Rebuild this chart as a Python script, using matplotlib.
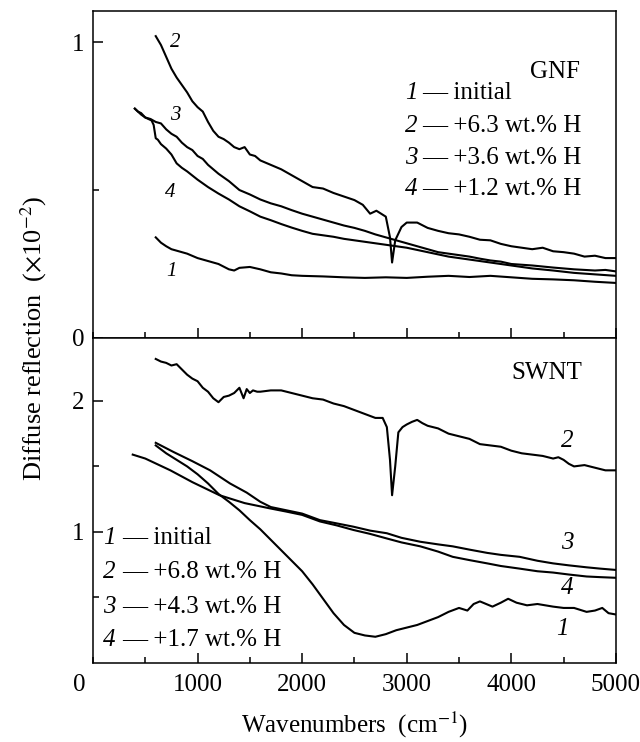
import matplotlib
matplotlib.use("Agg")
import matplotlib.pyplot as plt
from matplotlib.ticker import MultipleLocator, FixedLocator

plt.rcParams['font.family'] = 'Liberation Serif'
plt.rcParams['mathtext.fontset'] = 'stix'

# ---- GNF (top panel) ----
gnf1_x = [600, 650, 700, 750, 800, 900, 1000, 1100, 1200, 1300, 1350, 1400, 1500, 1600, 1700,
          1800, 1900, 2000, 2200, 2400, 2600, 2800, 3000, 3200, 3400, 3600, 3800, 4000, 4200,
          4400, 4600, 4800, 5000]
gnf1_y = [0.34, 0.322, 0.31, 0.30, 0.295, 0.285, 0.27, 0.26, 0.25, 0.232, 0.228, 0.237, 0.24,
          0.232, 0.222, 0.218, 0.212, 0.21, 0.208, 0.205, 0.203, 0.205, 0.203, 0.207, 0.21,
          0.206, 0.21, 0.205, 0.2, 0.198, 0.195, 0.19, 0.186]

gnf2_x = [600, 650, 700, 750, 800, 850, 900, 950, 1000, 1050, 1100, 1150, 1200, 1250, 1300,
          1350, 1400, 1450, 1500, 1550, 1600, 1700, 1800, 1900, 2000, 2100, 2200, 2300, 2400,
          2500, 2580, 2650, 2710, 2800, 2840, 2860, 2890, 2950, 3000, 3100, 3200, 3300, 3400,
          3500, 3600, 3700, 3800, 3900, 4000, 4100, 4200, 4300, 4400, 4500, 4600, 4700, 4800,
          4900, 5000]
gnf2_y = [1.02, 0.99, 0.95, 0.91, 0.88, 0.855, 0.83, 0.80, 0.78, 0.765, 0.73, 0.70, 0.68,
          0.672, 0.66, 0.645, 0.638, 0.645, 0.62, 0.615, 0.60, 0.585, 0.57, 0.55, 0.53, 0.51,
          0.505, 0.49, 0.478, 0.466, 0.45, 0.42, 0.43, 0.41, 0.34, 0.255, 0.33, 0.375, 0.39,
          0.39, 0.372, 0.362, 0.354, 0.35, 0.342, 0.332, 0.33, 0.318, 0.31, 0.305, 0.30, 0.305,
          0.293, 0.29, 0.285, 0.275, 0.278, 0.27, 0.27]

gnf3_x = [400, 430, 460, 500, 550, 600, 650, 700, 750, 800, 850, 900, 950, 1000, 1050, 1100,
          1150, 1200, 1300, 1400, 1500, 1600, 1700, 1800, 1900, 2000, 2100, 2200, 2300, 2400,
          2500, 2600, 2700, 2800, 2900, 3000, 3100, 3200, 3300, 3400, 3500, 3600, 3700, 3800,
          3900, 4000, 4200, 4400, 4600, 4800, 4900, 5000]
gnf3_y = [0.775, 0.765, 0.76, 0.745, 0.74, 0.73, 0.725, 0.705, 0.69, 0.68, 0.66, 0.645, 0.635,
          0.615, 0.605, 0.585, 0.57, 0.555, 0.53, 0.50, 0.485, 0.468, 0.455, 0.445, 0.432,
          0.42, 0.41, 0.40, 0.39, 0.38, 0.372, 0.362, 0.35, 0.34, 0.33, 0.32, 0.31, 0.30, 0.29,
          0.285, 0.28, 0.275, 0.268, 0.262, 0.258, 0.25, 0.245, 0.238, 0.232, 0.228, 0.23,
          0.225]

gnf4_x = [400, 430, 460, 500, 530, 560, 580, 600, 620, 650, 700, 750, 800, 850, 900, 1000,
          1100, 1200, 1300, 1400, 1500, 1600, 1700, 1800, 1900, 2000, 2100, 2200, 2300, 2400,
          2500, 2600, 2700, 2800, 2900, 3000, 3200, 3400, 3600, 3800, 4000, 4200, 4400, 4600,
          4800, 5000]
gnf4_y = [0.775, 0.765, 0.755, 0.745, 0.74, 0.735, 0.72, 0.675, 0.67, 0.655, 0.64, 0.62,
          0.59, 0.575, 0.563, 0.535, 0.51, 0.488, 0.468, 0.445, 0.428, 0.41, 0.398, 0.385,
          0.373, 0.362, 0.352, 0.347, 0.342, 0.335, 0.33, 0.325, 0.32, 0.315, 0.31, 0.305,
          0.29, 0.275, 0.265, 0.255, 0.245, 0.235, 0.228, 0.22, 0.215, 0.21]

# ---- SWNT (bottom panel) ----
swnt1_x = [600, 700, 800, 900, 1000, 1100, 1200, 1300, 1400, 1500, 1600, 1700, 1800, 1900,
           2000, 2100, 2200, 2300, 2400, 2500, 2600, 2700, 2800, 2900, 3000, 3100, 3200, 3300,
           3400, 3500, 3580, 3640, 3700, 3820, 3900, 3970, 4050, 4150, 4250, 4400, 4500, 4600,
           4720, 4800, 4870, 4930, 5000]
swnt1_y = [1.66, 1.60, 1.55, 1.50, 1.44, 1.37, 1.29, 1.23, 1.165, 1.09, 1.02, 0.94, 0.86,
           0.78, 0.70, 0.60, 0.49, 0.38, 0.29, 0.23, 0.21, 0.20, 0.22, 0.25, 0.27, 0.29, 0.32,
           0.35, 0.39, 0.42, 0.40, 0.45, 0.47, 0.43, 0.46, 0.49, 0.46, 0.44, 0.45, 0.43, 0.42,
           0.42, 0.39, 0.40, 0.42, 0.38, 0.37]

swnt2_x = [600, 650, 700, 750, 800, 850, 900, 950, 1000, 1050, 1100, 1150, 1200, 1250, 1300,
           1350, 1400, 1440, 1470, 1500, 1530, 1570, 1600, 1700, 1800, 1900, 2000, 2100, 2200,
           2300, 2400, 2500, 2600, 2700, 2770, 2810, 2840, 2860, 2890, 2920, 2960, 3000, 3050,
           3100, 3150, 3200, 3300, 3400, 3500, 3600, 3700, 3800, 3900, 4000, 4100, 4200, 4300,
           4400, 4450, 4500, 4550, 4600, 4700, 4800, 4900, 5000]
swnt2_y = [2.32, 2.30, 2.29, 2.27, 2.28, 2.24, 2.20, 2.17, 2.15, 2.10, 2.07, 2.02, 1.99, 2.03,
           2.04, 2.06, 2.10, 2.02, 2.09, 2.06, 2.08, 2.07, 2.07, 2.08, 2.08, 2.06, 2.04, 2.02,
           2.01, 1.98, 1.96, 1.93, 1.90, 1.87, 1.87, 1.80, 1.55, 1.28, 1.50, 1.76, 1.80, 1.82,
           1.84, 1.855, 1.83, 1.81, 1.79, 1.75, 1.73, 1.71, 1.67, 1.66, 1.65, 1.62, 1.60, 1.59,
           1.58, 1.56, 1.57, 1.55, 1.52, 1.50, 1.51, 1.49, 1.47, 1.47]

swnt3_x = [600, 770, 950, 1120, 1310, 1470, 1600, 1700, 1850, 2000, 2170, 2300, 2490, 2650,
           2810, 2950, 3130, 3300, 3440, 3600, 3770, 3900, 4080, 4250, 4400, 4550, 4720, 4850,
           5000]
swnt3_y = [1.68, 1.61, 1.54, 1.47, 1.37, 1.30, 1.23, 1.19, 1.165, 1.14, 1.09, 1.07, 1.04,
           1.01, 0.99, 0.955, 0.925, 0.905, 0.89, 0.865, 0.84, 0.825, 0.81, 0.78, 0.76, 0.745,
           0.73, 0.72, 0.71]

swnt4_x = [380, 500, 740, 950, 1210, 1450, 1690, 1850, 2000, 2170, 2330, 2490, 2650, 2810,
           2950, 3130, 3300, 3440, 3600, 3770, 3900, 4080, 4250, 4400, 4550, 4720, 4850, 5000]
swnt4_y = [1.59, 1.56, 1.47, 1.38, 1.28, 1.22, 1.18, 1.155, 1.13, 1.08, 1.05, 1.015, 0.985,
           0.95, 0.92, 0.89, 0.85, 0.81, 0.785, 0.76, 0.74, 0.72, 0.70, 0.69, 0.675, 0.66,
           0.655, 0.65]

gnf_labels = ['initial', '+6.3 wt.% H', '+3.6 wt.% H', '+1.2 wt.% H']
swnt_labels = ['initial', '+6.8 wt.% H', '+4.3 wt.% H', '+1.7 wt.% H']

fig = plt.figure(figsize=(6.4, 7.42), dpi=100)
ax_top = fig.add_axes([0.1453, 0.5445, 0.817, 0.4407])
ax_bot = fig.add_axes([0.1453, 0.1065, 0.817, 0.438])

lw = 1.5
ax_top.plot(gnf1_x, gnf1_y, color='black', lw=lw)
ax_top.plot(gnf2_x, gnf2_y, color='black', lw=lw)
ax_top.plot(gnf3_x, gnf3_y, color='black', lw=lw)
ax_top.plot(gnf4_x, gnf4_y, color='black', lw=lw)

ax_bot.plot(swnt1_x, swnt1_y, color='black', lw=lw)
ax_bot.plot(swnt2_x, swnt2_y, color='black', lw=lw)
ax_bot.plot(swnt3_x, swnt3_y, color='black', lw=lw)
ax_bot.plot(swnt4_x, swnt4_y, color='black', lw=lw)

for ax in (ax_top, ax_bot):
    ax.set_xlim(0, 5000)
    ax.xaxis.set_major_locator(FixedLocator([1000, 2000, 3000, 4000, 5000]))
    ax.xaxis.set_minor_locator(MultipleLocator(500))
    ax.tick_params(which='both', direction='in', top=False, right=False,
                   labelsize=18, width=1.1)
    ax.tick_params(which='major', length=7)
    ax.tick_params(which='minor', length=4.5)
    ax.tick_params(axis='y', pad=6)
    ax.tick_params(axis='x', pad=8)
    for sp in ax.spines.values():
        sp.set_linewidth(1.1)

ax_top.set_ylim(0, 1.105)
ax_top.yaxis.set_major_locator(FixedLocator([0, 1]))
ax_top.yaxis.set_minor_locator(FixedLocator([0.5]))
ax_top.tick_params(labelbottom=False)

ax_bot.set_ylim(0, 2.48)
ax_bot.yaxis.set_major_locator(FixedLocator([1, 2]))
ax_bot.yaxis.set_minor_locator(FixedLocator([0.5, 1.5]))
ax_bot.annotate('0', xy=(0, 0), xycoords='axes fraction', xytext=(-10, -8),
                textcoords='offset points', ha='center', va='top', fontsize=18)

# panel names
ax_top.text(4660, 0.90, 'GNF', fontsize=18, ha='right', va='center')
ax_bot.text(4675, 2.21, 'SWNT', fontsize=18, ha='right', va='center')

# legends
top_rows = [0.828, 0.716, 0.608, 0.503]
for i, lab in enumerate(gnf_labels):
    ax_top.text(2983, top_rows[i], str(i + 1), fontsize=18, style='italic', va='center')
    ax_top.text(3150, top_rows[i], '\u2014 ' + lab, fontsize=18, va='center')

bot_rows = [0.954, 0.695, 0.427, 0.176]
for i, lab in enumerate(swnt_labels):
    ax_bot.text(96, bot_rows[i], str(i + 1), fontsize=18, style='italic', va='center')
    ax_bot.text(275, bot_rows[i], '\u2014 ' + lab, fontsize=18, va='center')

# curve numbers
for num, (x, y) in zip('1234', [(746, 0.223), (784, 1.0), (784, 0.753), (736, 0.493)]):
    ax_top.text(x, y, num, fontsize=15, style='italic', ha='center', va='center')
for num, (x, y) in zip('1234', [(4493, 0.26), (4532, 1.695), (4532, 0.916), (4532, 0.573)]):
    ax_bot.text(x, y, num, fontsize=18, style='italic', ha='center', va='center')

ax_bot.set_xlabel(r'Wavenumbers  (cm$^{-1}$)', fontsize=18, labelpad=10)
fig.text(34 / 640, 1 - 338 / 742, r'Diffuse reflection  ($\times$10$^{-2}$)',
         rotation=90, ha='center', va='center', fontsize=19)

fig.savefig('out.png', dpi=100)
